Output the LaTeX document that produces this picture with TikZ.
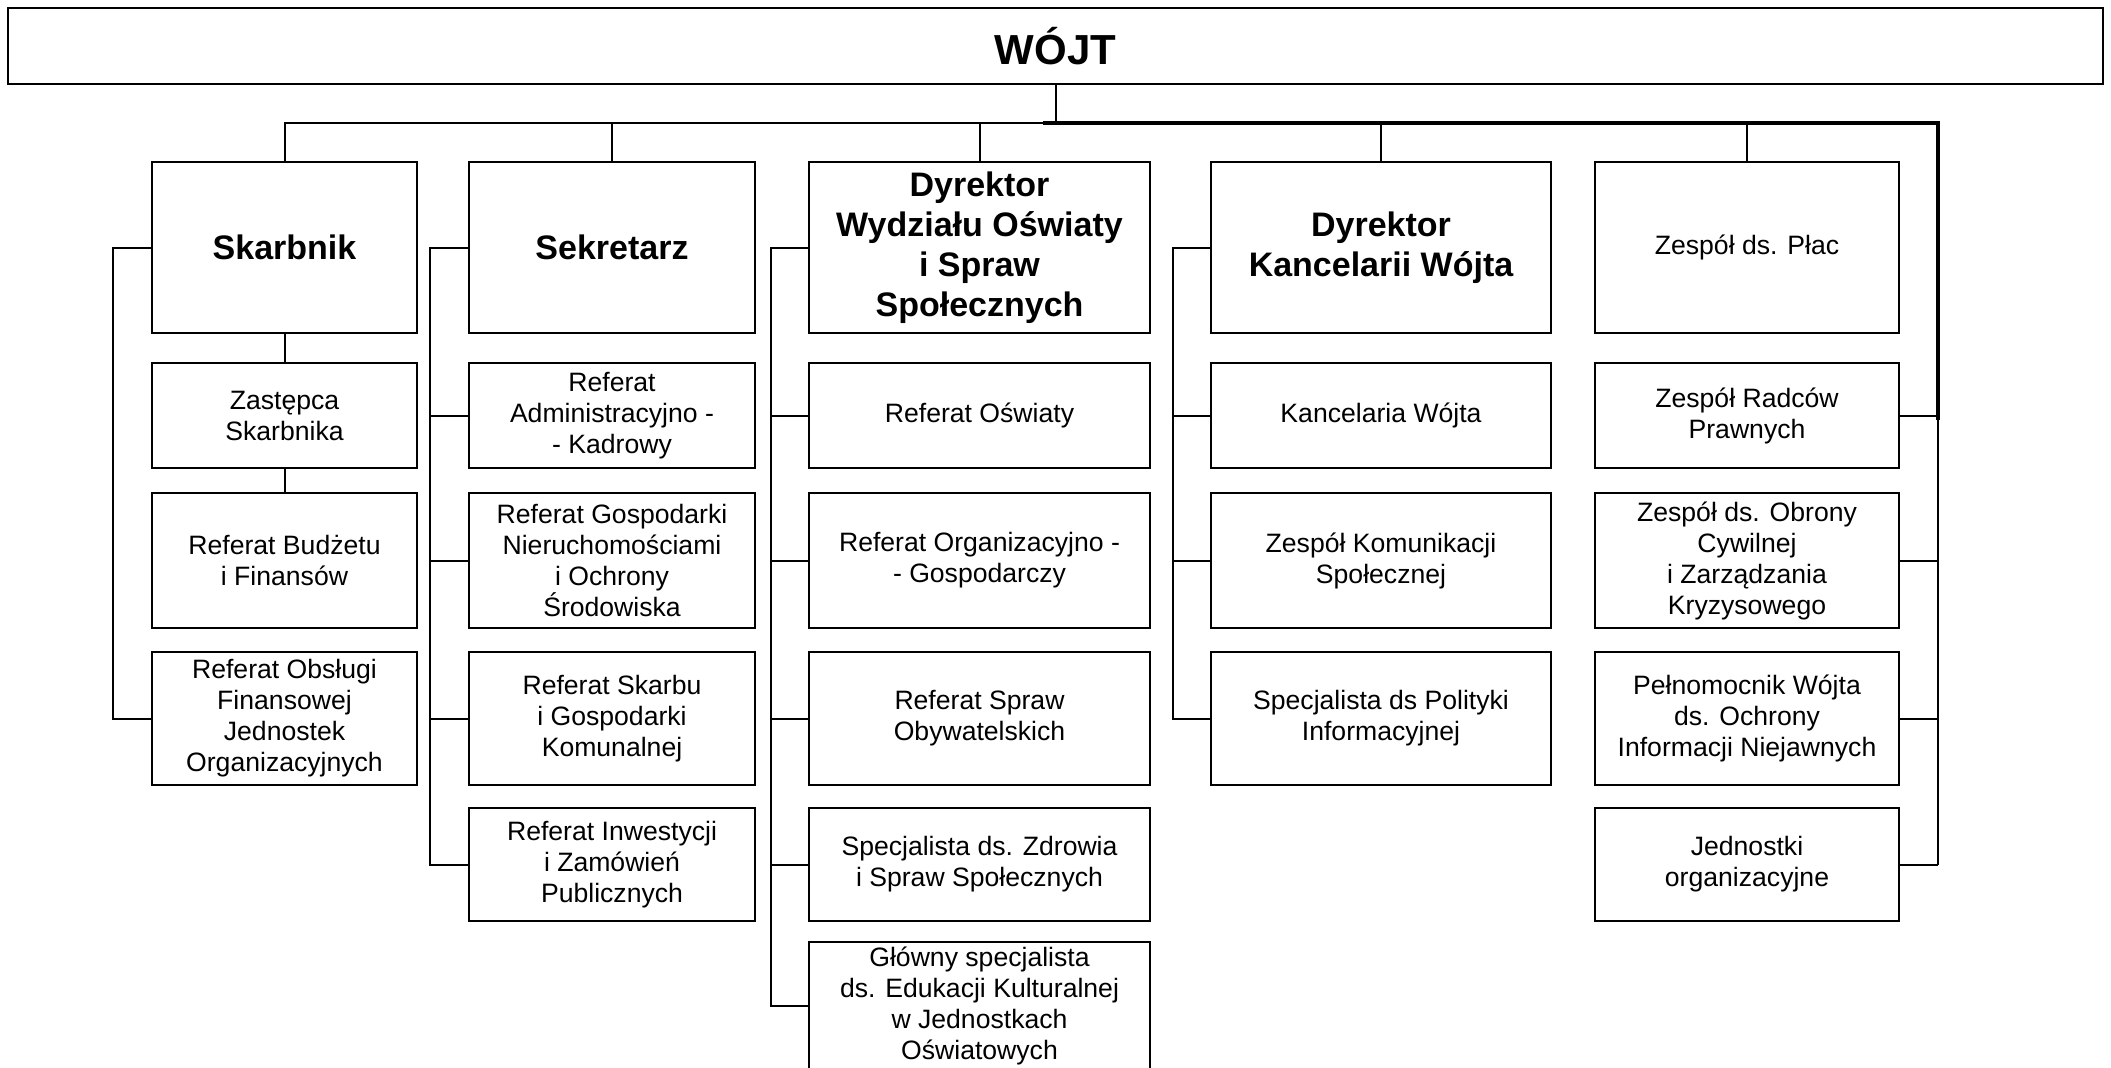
\documentclass[tikz,border=0pt]{standalone}
\usepackage{fontspec}
\setmainfont{Liberation Sans}
\begin{document}
\begin{tikzpicture}[x=0.5pt,y=-0.5pt,
  box/.style={draw=black,line width=1.1pt,fill=white,inner sep=0pt,align=center,
    font=\fontsize{13.3}{15.5}\selectfont},
  headbox/.style={box,font=\bfseries\fontsize{17}{20}\selectfont},
  conn/.style={line width=1pt},
  thickconn/.style={line width=1.6pt}]
\clip (0,0) rectangle (2111,1067);
\fill[white] (0,0) rectangle (2111,1067);

% top
\node[box,minimum width=1047.5pt,minimum height=38pt,font=\bfseries\fontsize{21}{24}\selectfont] (wojt) at (1055.5,46) {WÓJT};

% row 1
\node[headbox,minimum width=132.5pt,minimum height=85.5pt] (skarbnik) at (284.5,247.5) {Skarbnik};
\node[headbox,minimum width=143pt,minimum height=85.5pt] (sekretarz) at (612,247.5) {Sekretarz};
\node[headbox,minimum width=170.5pt,minimum height=85.5pt] (dyros) at (979.5,247.5) {Dyrektor\\Wydziału Oświaty\\i Spraw\\Społecznych};
\node[headbox,minimum width=170pt,minimum height=85.5pt] (dyrkw) at (1381,247.5) {Dyrektor\\Kancelarii Wójta};
\node[box,minimum width=152pt,minimum height=85.5pt] (place) at (1747,247.5) {Zespół ds. Płac};

% column 1
\node[box,minimum width=132.5pt,minimum height=52.5pt] (zastepca) at (284.5,415.5) {Zastępca\\Skarbnika};
\node[box,minimum width=132.5pt,minimum height=67.5pt] (budzet) at (284.5,560.5) {Referat Budżetu\\i Finansów};
\node[box,minimum width=132.5pt,minimum height=66.5pt] (obslugi) at (284.5,718.5) {Referat Obsługi\\Finansowej\\Jednostek\\Organizacyjnych};

% column 2
\node[box,minimum width=143pt,minimum height=52.5pt] (adm) at (612,415.5) {Referat\\Administracyjno -\\- Kadrowy};
\node[box,minimum width=143pt,minimum height=67.5pt] (gosp) at (612,560.5) {Referat Gospodarki\\Nieruchomościami\\i Ochrony\\Środowiska};
\node[box,minimum width=143pt,minimum height=66.5pt] (skarbu) at (612,718.5) {Referat Skarbu\\i Gospodarki\\Komunalnej};
\node[box,minimum width=143pt,minimum height=56.5pt] (inwest) at (612,864.5) {Referat Inwestycji\\i Zamówień\\Publicznych};

% column 3
\node[box,minimum width=170.5pt,minimum height=52.5pt] (oswiaty) at (979.5,415.5) {Referat Oświaty};
\node[box,minimum width=170.5pt,minimum height=67.5pt] (organiz) at (979.5,560.5) {Referat Organizacyjno -\\- Gospodarczy};
\node[box,minimum width=170.5pt,minimum height=66.5pt] (obyw) at (979.5,718.5) {Referat Spraw\\Obywatelskich};
\node[box,minimum width=170.5pt,minimum height=56.5pt] (zdrowia) at (979.5,864.5) {Specjalista ds. Zdrowia\\i Spraw Społecznych};
\node[box,minimum width=170.5pt,minimum height=64pt] (glowny) at (979.5,1006) {Główny specjalista\\ds. Edukacji Kulturalnej\\w Jednostkach\\Oświatowych};

% column 4
\node[box,minimum width=170pt,minimum height=52.5pt] (kanc) at (1381,415.5) {Kancelaria Wójta};
\node[box,minimum width=170pt,minimum height=67.5pt] (komun) at (1381,560.5) {Zespół Komunikacji\\Społecznej};
\node[box,minimum width=170pt,minimum height=66.5pt] (polit) at (1381,718.5) {Specjalista ds Polityki\\Informacyjnej};

% column 5
\node[box,minimum width=152pt,minimum height=52.5pt] (radcow) at (1747,415.5) {Zespół Radców\\Prawnych};
\node[box,minimum width=152pt,minimum height=67.5pt] (obrony) at (1747,560.5) {Zespół ds. Obrony\\Cywilnej\\i Zarządzania\\Kryzysowego};
\node[box,minimum width=152pt,minimum height=66.5pt] (pelnom) at (1747,718.5) {Pełnomocnik Wójta\\ds. Ochrony\\Informacji Niejawnych};
\node[box,minimum width=152pt,minimum height=56.5pt] (jednostki) at (1747,864.5) {Jednostki\\organizacyjne};

% bus coordinates
\coordinate (busL) at (284,123);
\coordinate (busM) at (1043,123);
\coordinate (busR) at (1938,123);
\coordinate (busRm) at (1938,420);
\coordinate (b1) at (113,0);
\coordinate (b2) at (430,0);
\coordinate (b3) at (771,0);
\coordinate (b4) at (1173,0);

\draw[conn] (wojt.south) -- (wojt.south |- busL);
\draw[conn] (busL) -- (busM);
\draw[thickconn] (busM) -- (busR) -- (busRm);
\draw[conn] (busRm) -- (busR |- jednostki.east);
\foreach \n in {skarbnik,sekretarz,dyros,dyrkw,place}
  \draw[conn] (\n.north) -- (\n.north |- busL);

% column 1
\draw[conn] (skarbnik.south) -- (zastepca.north);
\draw[conn] (zastepca.south) -- (budzet.north);
\draw[conn] (skarbnik.west) -- (skarbnik.west -| b1) |- (obslugi.west);

% column 2
\draw[conn] (sekretarz.west) -- (sekretarz.west -| b2) |- (inwest.west);
\foreach \n in {adm,gosp,skarbu}
  \draw[conn] (\n.west) -- (\n.west -| b2);

% column 3
\draw[conn] (dyros.west) -- (dyros.west -| b3) |- (glowny.west);
\foreach \n in {oswiaty,organiz,obyw,zdrowia}
  \draw[conn] (\n.west) -- (\n.west -| b3);

% column 4
\draw[conn] (dyrkw.west) -- (dyrkw.west -| b4) |- (polit.west);
\foreach \n in {kanc,komun}
  \draw[conn] (\n.west) -- (\n.west -| b4);

% column 5
\foreach \n in {radcow,obrony,pelnom,jednostki}
  \draw[conn] (\n.east) -- (\n.east -| busR);
\end{tikzpicture}
\end{document}
